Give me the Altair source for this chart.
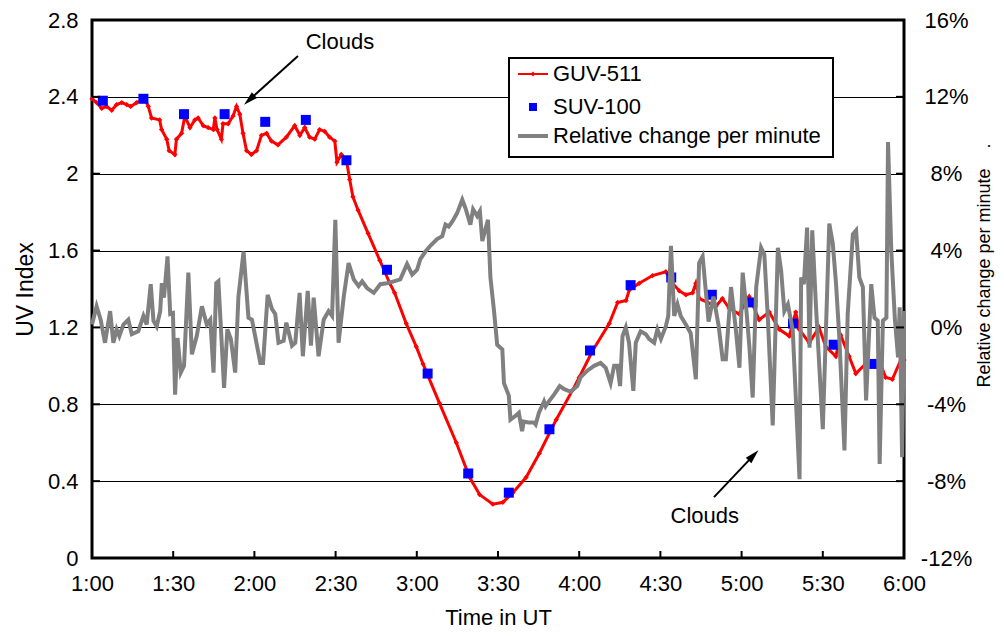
import altair as alt
import pandas as pd

FONT = "Liberation Sans"

# ---------------- data (minutes after 1:00 UT) ----------------
guv_t = [0, 1.7, 3.6, 5.4, 7.3, 9.1, 11, 12.8, 14.3, 16.5, 19.5, 20.8, 22, 25, 25.7, 27.6, 28.5,
         30.6, 31.2, 33.1, 34.3, 36.2, 38, 39.2, 41.1, 42.9, 44.8, 45.4, 46.2, 47.8, 48.4, 50.3,
         52.1, 53.4, 54.6, 55.8, 57.1, 58.9, 60.8, 62.6, 64.5, 66.3, 68.7, 71.8, 74.9, 76.8, 78.6,
         80.4, 82.3, 84.1, 86, 87.8, 89.7, 90.5, 92.1, 94, 95.2, 96.4, 98.3, 102, 106.3, 110, 111.8,
         116.1, 119.8, 122.3, 128.4, 134.6, 139.5, 143.2, 148.1, 151.8, 155.5, 160.4, 165.3, 171.5,
         177.6, 180, 185, 191.1, 194.2, 197.3, 198.5, 202.2, 207.1, 212, 214.5, 217, 219.4, 221.9,
         223.1, 224.4, 227.4, 230.5, 232.9, 235.4, 239.1, 242.8, 246.5, 250.2, 253.9, 257.6, 260,
         261.3, 265, 268.6, 271.1, 274.8, 276.6, 279.7, 282.2, 285.8, 290.8, 293.2, 295.7, 299.4, 300]
guv_uv = [2.39, 2.37, 2.34, 2.35, 2.33, 2.36, 2.37, 2.36, 2.35, 2.37, 2.39, 2.35, 2.29, 2.28, 2.23, 2.18, 2.12,
          2.10, 2.18, 2.21, 2.30, 2.24, 2.28, 2.29, 2.25, 2.24, 2.23, 2.29, 2.23, 2.18, 2.26, 2.26,
          2.30, 2.35, 2.31, 2.21, 2.12, 2.10, 2.12, 2.20, 2.21, 2.17, 2.15, 2.19, 2.25, 2.20, 2.24,
          2.19, 2.18, 2.23, 2.22, 2.19, 2.17, 2.06, 2.10, 2.07, 1.97, 1.88, 1.81, 1.69, 1.55, 1.43, 1.38,
          1.22, 1.10, 1.01, 0.805, 0.60, 0.42, 0.33, 0.28, 0.29, 0.34, 0.42, 0.545, 0.72,
          0.875, 0.94, 1.08, 1.22, 1.33, 1.34, 1.395, 1.43, 1.47, 1.49, 1.43, 1.39, 1.37, 1.38,
          1.43, 1.35, 1.33, 1.31, 1.35, 1.30, 1.27, 1.36, 1.24, 1.28, 1.19, 1.155, 1.28,
          1.19, 1.12, 1.20, 1.10, 1.05, 1.16, 1.05, 0.96, 1.01, 1.03, 0.94, 0.93, 1.05, 1.03]

suv_t = [4, 19, 34, 49, 64, 79, 94, 109, 124, 139, 154, 169, 184, 199, 214, 229, 244, 259, 274, 289]
suv_uv = [2.38, 2.39, 2.31, 2.31, 2.27, 2.28, 2.07, 1.50, 0.96, 0.44, 0.34, 0.67, 1.08, 1.42, 1.46,
          1.37, 1.33, 1.22, 1.11, 1.01]

rel_t = [0, 1.7, 3.2, 4.8, 6.7, 7.9, 9.1, 10.1, 11.6, 13.4, 14.7, 17.1, 19, 20.2, 21.7, 22.7, 23.9,
         25.2, 25.8, 26.6, 27.9, 28.9, 29.9, 30.7, 31.6, 32.8, 34, 35.6, 36.9, 38.7, 40.6, 42.4, 43.7,
         44.9, 45.9, 46.7, 48.8, 50, 51.3, 52.9, 54.1, 56, 57.8, 59.1, 62.2, 63.2, 64.9, 66.5, 67.7,
         68.9, 70.8, 71.8, 73.9, 75.1, 76.7, 77.9, 79.7, 80.9, 81.9, 83.7, 85.6, 87.4, 88.7, 89.9,
         91.1, 93, 94.8, 96.7, 98.5, 99.8, 101.6, 104.1, 106.5, 109, 111.5, 113.9, 116.4, 118.3,
         120.1, 121.3, 123.2, 125, 127.5, 129.4, 130.6, 131.8, 133.1, 134.9, 136.8, 138, 139.8,
         140.8, 142.3, 143.3, 144.2, 146.3, 147.2, 148.5, 149.7, 151.6, 152.2, 154, 154.6, 156.5,
         157.7, 158.9, 159.5, 161.3, 163.3, 163.9, 165.1, 167, 167.6, 168.8, 170.7, 172.8, 174.3,
         176.8, 179.3, 180.5, 183, 185.5, 187.9, 189.8, 191.6, 192.9, 194.1, 195.1, 196, 197.2,
         198.4, 200, 200.9, 202.7, 204.6, 205.8, 207.7, 208.9, 210.2, 212, 212.9, 213.9, 215.1,
         216.3, 217.5, 219.4, 221.2, 223.1, 224.3, 225.6, 227.8, 229.6, 231.5, 233, 234.2, 236.1,
         237.9, 239.2, 240.4, 241.6, 242.9, 244.1, 245.4, 247.2, 248.4, 249.7, 251.5, 253.4, 254.6,
         255.8, 257.1, 258.9, 261.4, 262, 263, 264.2, 265.1, 266.1, 267.5, 270, 272.4, 273.7,
         274.9, 276.1, 278, 279.2, 281.1, 282.3, 283.5, 284.8, 286, 287.9, 289.1, 290.3, 291,
         292.2, 293.5, 294.1, 295.3, 296.6, 297.8, 298.4, 299.3, 300]
rel_pct = [0.15, 1.1, 0.4, -0.8, 0.85, -0.8, -0.1, -0.45, 0.15, 0.4, -0.35, -0.2, 0.6, 0.15, 2.25, 0.35, 0.05,
           0.85, 2.3, 1.55, 3.7, 0.7, 0.75, -3.5, -0.55, -2.35, -2.0, 2.85, -1.4, -0.45, 1.1, 0.15, 0.4,
           -2.35, 2.3, 2.4, -3.15, -0.1, -0.6, -2.35, 1.6, 3.95, 0.5, 0.4, -1.85, -1.85, 1.7, 0.95, 0.7,
           -0.8, -0.7, 0.25, -0.95, -0.8, 1.8, -1.5, 1.9, -0.95, 1.55, -1.5, 0.4, 0.85, 0.6, 5.6,
           -0.8, 1.6, 3.35, 2.5, 2.15, 2.4, 2.05, 1.8, 2.25, 2.3, 2.4, 2.5, 3.3, 2.75,
           3.0, 3.55, 3.95, 4.25, 4.6, 4.75, 5.35, 5.25, 5.5, 5.95, 6.65, 6.2, 5.35,
           6.15, 5.8, 6.05, 4.5, 5.6, 2.6, 0.9, -0.9, -1.15, -2.9, -3.55, -4.8, -4.6,
           -4.45, -5.4, -4.9, -4.95, -4.95, -5.05, -4.45, -3.85, -4.1, -3.85, -3.5, -3.05, -3.2,
           -3.35, -3.05, -2.6, -2.25, -2.0, -1.85, -2.1, -2.9, -2.0, -2.0, -3.05, -0.45, 0.0,
           -0.8, -3.3, -0.8, -0.2, -0.35, -0.6, -0.8, -0.1, -0.6, 0.05, 0.6, 4.25, 0.6,
           1.2, 0.6, 0.15, -0.3, -2.7, 3.35, 3.7, 0.3, 1.6, 0.1, -1.65, -1.65, 2.1,
           -0.15, -2.1, 2.85, 1.2, -1.05, -3.65, 2.1, 4.15, 3.8, 0.5, -5.1, 4.15, 2.95,
           0.85, 1.2, -0.15, -7.9, 2.6, 2.25, 5.2, -1.05, 5.05, 1.05, -5.3, 5.4, 4.35,
           2.25, -0.5, -6.4, 0.7, 4.85, 5.05, 2.6, 2.1, -3.8, 2.25, 0.5, 0.35, -7.1,
           0.35, 0.5, 9.65, 4.0, 0.5, -1.55, 1.05, -6.75, 0.85]

x_ticks = [0, 30, 60, 90, 120, 150, 180, 210, 240, 270, 300]
uv_ticks = [0, 0.4, 0.8, 1.2, 1.6, 2.0, 2.4, 2.8]
pct_ticks = [-12, -8, -4, 0, 4, 8, 12, 16]

series_names = ["GUV-511", "SUV-100", "Relative change per minute"]

# annotations ("Clouds" labels and arrows), in minutes / UV index
note_text = ["Clouds", "Clouds"]
note_t = [91.6, 226.4]
note_uv = [2.686, 0.219]
arrow_tail_t = [76.1, 229.8]
arrow_tail_uv = [2.613, 0.317]
arrow_head_t = [58.1, 244.4]
arrow_head_uv = [2.384, 0.534]
arrow_angle = [227.4, 44.3]

# ---------------- chart ----------------
W, H = 812, 538
xscale = alt.Scale(domain=[0, 300], nice=False, zero=False)
uv_scale = alt.Scale(domain=[0, 2.8], nice=False, zero=False)
pct_scale = alt.Scale(domain=[-12, 16], nice=False, zero=False)

FS = 22

x_axis = alt.Axis(
    values=x_ticks,
    labelExpr="(floor(datum.value/60)+1) + ':' + (datum.value % 60 == 0 ? '00' : '30')",
    title="Time in UT", grid=False, domain=False, ticks=False, labelFlush=False,
    labelPadding=15, labelFontSize=FS, labelFont=FONT, labelColor="black",
    titleFont=FONT, titleFontSize=FS, titleFontWeight="normal", titleColor="black",
    titleY=66, titleBaseline="alphabetic",
)
uv_axis = alt.Axis(
    values=uv_ticks, format="~g", orient="left", title="UV Index",
    grid=True, gridColor="black", gridWidth=1, domain=False, ticks=False,
    labelPadding=14, labelFontSize=FS, labelFont=FONT, labelColor="black",
    titleFont=FONT, titleFontSize=23, titleFontWeight="normal", titleColor="black",
    titleAngle=270, titleX=-67, titleY=H / 2, titleBaseline="middle", titleAlign="center",
)
pct_axis = alt.Axis(
    values=pct_ticks, labelExpr="datum.value + '%'", orient="right",
    title="Relative change per minute" + "\u00a0" * 4 + ".",
    grid=False, domain=False, ticks=False,
    labelPadding=42, labelAlign="center", labelFontSize=FS, labelFont=FONT, labelColor="black",
    titleFont=FONT, titleFontSize=18, titleFontWeight="normal", titleColor="black",
    titleAngle=270, titleX=80, titleY=245, titleBaseline="middle", titleAlign="center",
)

guv_df = pd.DataFrame({"t": guv_t, "uv": guv_uv})
suv_df = pd.DataFrame({"t": suv_t, "uv": suv_uv})
rel_df = pd.DataFrame({"t": rel_t, "pct": rel_pct})
note_df = pd.DataFrame({"text": note_text, "t": note_t, "uv": note_uv})
arrow_df = pd.DataFrame({"t": arrow_tail_t, "uv": arrow_tail_uv,
                         "t2": arrow_head_t, "uv2": arrow_head_uv, "ang": arrow_angle})


def X(field):
    return alt.X(field, scale=xscale, axis=x_axis)


def YL(field):
    return alt.Y(field, scale=uv_scale, axis=uv_axis)


def YR(field):
    return alt.Y(field, scale=pct_scale, axis=pct_axis)


guv_line = alt.Chart(guv_df).mark_line(
    color="#FF0000", strokeWidth=3,
    point=alt.OverlayMarkDef(shape="diamond", filled=True, size=28, color="#FF0000"),
).encode(x=X("t:Q"), y=YL("uv:Q"))

suv_pts = alt.Chart(suv_df).mark_square(color="#0000FF", size=100, opacity=1).encode(
    x=X("t:Q"), y=YL("uv:Q"))

left_ticks = alt.Chart(pd.DataFrame({"v": uv_ticks})).mark_rule(color="black", strokeWidth=2).encode(
    y=YL("v:Q"), x=alt.value(0), x2=alt.value(8))

notes = alt.Chart(note_df).mark_text(font=FONT, fontSize=FS, color="black", align="center",
                                     baseline="middle").encode(
    x=X("t:Q"), y=YL("uv:Q"), text="text:N")

arrow_lines = alt.Chart(arrow_df).mark_rule(color="black", strokeWidth=2).encode(
    x=X("t:Q"), y=YL("uv:Q"), x2="t2:Q", y2="uv2:Q")
arrow_heads = alt.Chart(arrow_df).mark_point(
    shape="M0,-1L0.55,1L-0.55,1Z", filled=True, color="black", size=200, opacity=1).encode(
    x=X("t2:Q"), y=YL("uv2:Q"), angle=alt.Angle("ang:Q", scale=None))

left_group = alt.layer(guv_line, suv_pts, left_ticks, arrow_lines, arrow_heads, notes)

rel_line = alt.Chart(rel_df).mark_line(color="#808080", strokeWidth=4).encode(
    x=X("t:Q"), y=YR("pct:Q"))
right_ticks = alt.Chart(pd.DataFrame({"v": pct_ticks})).mark_rule(color="black", strokeWidth=2).encode(
    y=YR("v:Q"), x=alt.value(W - 8), x2=alt.value(W))
right_group = alt.layer(rel_line, right_ticks)

bottom_ticks = alt.Chart(pd.DataFrame({"v": x_ticks})).mark_rule(color="black", strokeWidth=2).encode(
    x=X("v:Q"), y=alt.value(H), y2=alt.value(H - 7))

# legend (drawn manually)
one = pd.DataFrame({"k": [0]})
leg_box = alt.Chart(one).mark_rect(fill="white", stroke="black", strokeWidth=2).encode(
    x=alt.value(417), x2=alt.value(741), y=alt.value(38), y2=alt.value(137))
leg_red = alt.Chart(one).mark_rule(color="#FF0000", strokeWidth=2).encode(
    x=alt.value(426), x2=alt.value(456), y=alt.value(54))
leg_dia = alt.Chart(one).mark_point(shape="diamond", filled=True, size=24, color="#FF0000", opacity=1).encode(
    x=alt.value(441), y=alt.value(54))
leg_sq = alt.Chart(one).mark_square(color="#0000FF", size=64, opacity=1).encode(
    x=alt.value(441), y=alt.value(87))
leg_gray = alt.Chart(one).mark_rule(color="#808080", strokeWidth=4).encode(
    x=alt.value(426), x2=alt.value(456), y=alt.value(116))
leg_texts = []
for name, yy in zip(series_names, [54, 87, 116]):
    leg_texts.append(
        alt.Chart(pd.DataFrame({"name": [name]})).mark_text(
            font=FONT, fontSize=FS, color="black", align="left", baseline="middle").encode(
            x=alt.value(461), y=alt.value(yy), text="name:N"))

chart = alt.layer(
    left_group, right_group, bottom_ticks, leg_box, leg_red, leg_dia, leg_sq, leg_gray, *leg_texts
).resolve_scale(y="independent").properties(
    width=W, height=H,
    padding={"left": 84, "top": 12, "right": 92, "bottom": 70},
    autosize=alt.AutoSizeParams(type="none"),
    background="white",
).configure_view(stroke="black", strokeWidth=3)

chart.save("out.html", embed_options={"renderer": "svg", "actions": False})
